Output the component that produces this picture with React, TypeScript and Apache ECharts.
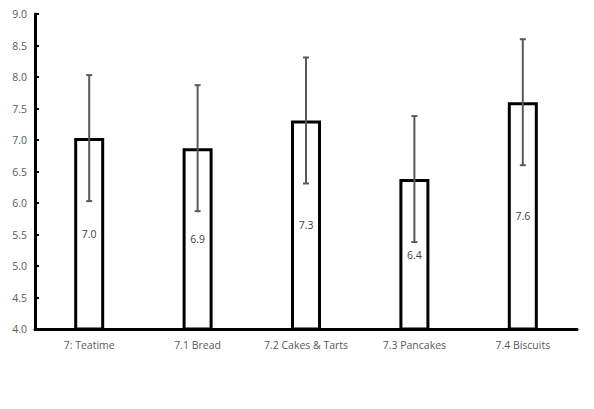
import React, { useEffect, useRef } from "react";
import * as echarts from "echarts";

const categories = ["7: Teatime", "7.1 Bread", "7.2 Cakes & Tarts", "7.3 Pancakes", "7.4 Biscuits"];
const means = [7.03, 6.87, 7.31, 6.38, 7.6];
const errors = [1.0, 1.0, 1.0, 1.0, 1.0];
const yTicks = { min: 4, max: 9, interval: 0.5 };

export default function App() {
  const ref = useRef<HTMLDivElement>(null);
  useEffect(() => {
    if (!ref.current) return;
    const chart = echarts.init(ref.current, null, { renderer: "svg" });
    const font = "'Open Sans', 'Noto Sans', sans-serif";
    const errData = means.map((m, i) => [i, m - errors[i], m + errors[i]]);
    chart.setOption({
      animation: false,
      grid: { left: 35, right: 17, top: 14, bottom: 80, containLabel: false },
      xAxis: {
        type: "category",
        data: categories,
        axisLine: { lineStyle: { color: "#000", width: 3 } },
        axisTick: { show: false },
        axisLabel: { color: "#595959", fontSize: 10.5, fontFamily: font, margin: 10, interval: 0 },
      },
      yAxis: {
        type: "value",
        min: yTicks.min,
        max: yTicks.max,
        interval: yTicks.interval,
        axisLine: { show: true, lineStyle: { color: "#000", width: 3 } },
        axisTick: { show: true, inside: true, length: 4, lineStyle: { color: "#000", width: 2 } },
        splitLine: { show: false },
        axisLabel: {
          color: "#595959",
          fontSize: 10.5,
          fontFamily: font,
          margin: 8,
          formatter: (v: number) => v.toFixed(1),
        },
      },
      series: [
        {
          type: "bar",
          data: means,
          barWidth: 30,
          itemStyle: { color: "#fff", borderColor: "#000", borderWidth: 3 },
          label: {
            show: true,
            position: "inside",
            color: "#404040",
            fontSize: 10.5,
            fontFamily: font,
            formatter: (p: any) => Number(p.value).toFixed(1),
          },
          z: 2,
        },
        {
          type: "custom",
          data: errData,
          z: 5,
          renderItem: (params: any, api: any) => {
            const x = api.coord([api.value(0), api.value(1)])[0];
            const lo = api.coord([api.value(0), api.value(1)])[1];
            const hi = api.coord([api.value(0), api.value(2)])[1];
            const cap = 3;
            const style = { stroke: "#595959", lineWidth: 2, fill: "none" };
            return {
              type: "group",
              children: [
                { type: "line", shape: { x1: x, y1: lo, x2: x, y2: hi }, style },
                { type: "line", shape: { x1: x - cap, y1: lo, x2: x + cap, y2: lo }, style },
                { type: "line", shape: { x1: x - cap, y1: hi, x2: x + cap, y2: hi }, style },
              ],
            };
          },
        },
      ],
    });
    return () => chart.dispose();
  }, []);
  return <div ref={ref} style={{ width: 594, height: 409, position: "absolute", left: 0, top: 0, background: "#fff" }} />;
}
